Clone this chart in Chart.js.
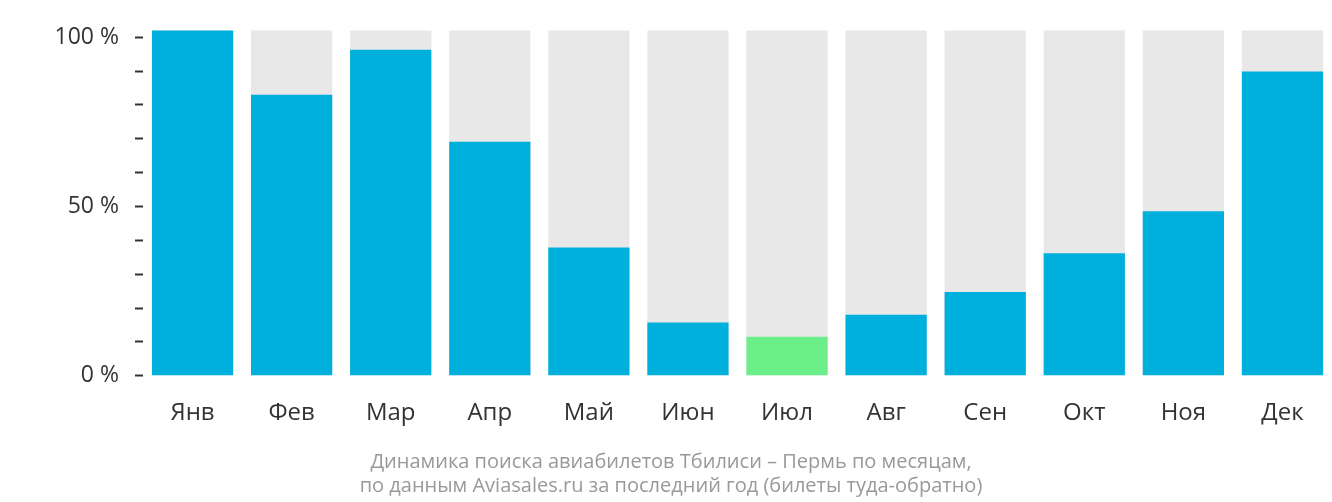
<!DOCTYPE html>
<html>
<head>
<meta charset="utf-8">
<script src="https://cdn.jsdelivr.net/npm/chart.js@4"></script>
<style>
  html, body { margin: 0; padding: 0; background: #fff; }
  #wrap { width: 1332px; height: 502px; }
</style>
</head>
<body>
<div id="wrap"><canvas id="chart"></canvas></div>
<script>
// ----- DATA -----
const months = ['Янв','Фев','Мар','Апр','Май','Июн','Июл','Авг','Сен','Окт','Ноя','Дек'];
const searchShare = [102, 83, 96.3, 69.1, 37.9, 15.7, 11.5, 18, 24.7, 36.2, 48.6, 89.9];
const fullShare = [102, 102, 102, 102, 102, 102, 102, 102, 102, 102, 102, 102];
const yTicks = [0, 10, 20, 30, 40, 50, 60, 70, 80, 90, 100];
const yLabels = [0, 50, 100];
const titleLines = ['Динамика поиска авиабилетов Тбилиси – Пермь по месяцам,', 'по данным Aviasales.ru за последний год (билеты туда-обратно)'];

const lowIdx = searchShare.indexOf(Math.min(...searchShare));
const barColors = searchShare.map((v,i)=> i===lowIdx ? '#6cee88' : '#00b0dc');

new Chart(document.getElementById('chart'), {
  type: 'bar',
  data: {
    labels: months,
    datasets: [
      { data: searchShare, backgroundColor: barColors, grouped: false, order: 1,
        barPercentage: 0.82, categoryPercentage: 1 },
      { data: fullShare, backgroundColor: '#e8e8e8', grouped: false, order: 2,
        barPercentage: 0.82, categoryPercentage: 1 }
    ]
  },
  options: {
    responsive: true, maintainAspectRatio: false, animation: false,
    layout: { padding: { left: 0, right: -10, top: -16, bottom: 4 } },
    plugins: {
      legend: { display: false }, tooltip: { enabled: false },
      title: { display: true, position: 'bottom', text: titleLines, color: '#999',
        font: { family: 'Open Sans', size: 20, weight: 'normal' }, lineHeight: 1.8, padding: { top: 16, bottom: 0 } }
    },
    scales: {
      x: {
        grid: { display: false }, border: { display: false },
        ticks: { color: '#333', font: { family: 'Open Sans', size: 24 }, padding: 6 }
      },
      y: {
        min: -2.8, max: 102.2,
        afterBuildTicks: s => { s.ticks = yTicks.map(v => ({ value: v })); },
        afterFit: s => { s.width = 143; },
        grid: { drawOnChartArea: false, tickLength: 8, color: '#333', tickWidth: 2 },
        border: { display: false },
        ticks: { color: '#333', font: { family: 'Open Sans', size: 23 }, padding: 16,
          callback: v => yLabels.includes(v) ? v + ' %' : '' }
      }
    }
  }
});
</script>
</body>
</html>
